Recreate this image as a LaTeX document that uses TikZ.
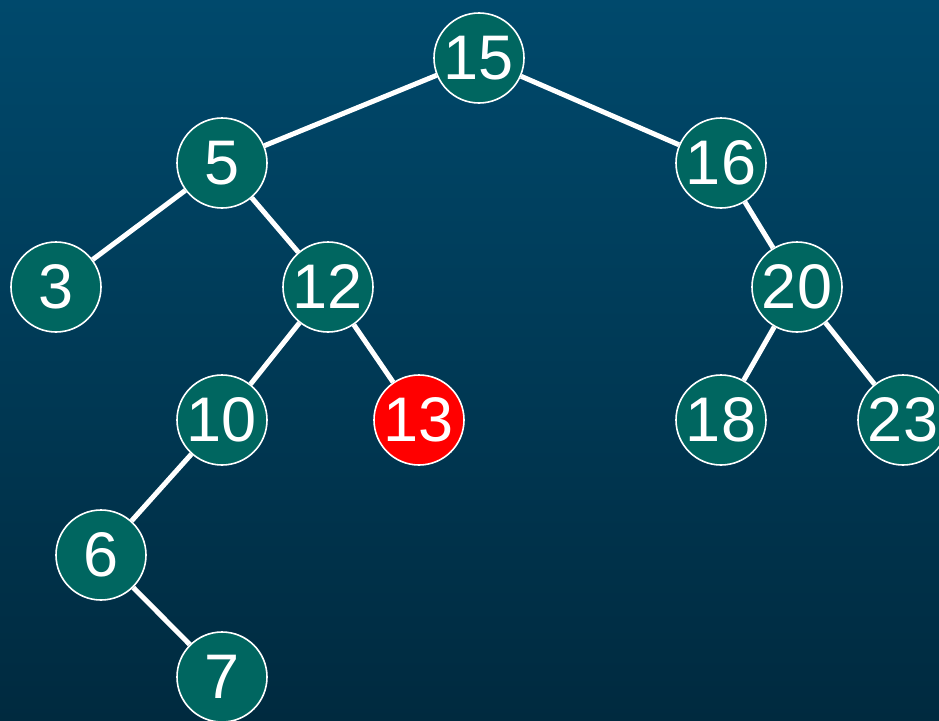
\documentclass[tikz,border=0pt]{standalone}
\usepackage{fontspec}
\setmainfont{Liberation Sans}
\definecolor{bgtop}{HTML}{00496C}
\definecolor{bgbot}{HTML}{002A3F}
\definecolor{nodefill}{HTML}{006660}
\definecolor{hotred}{HTML}{FF0000}
\begin{document}
\begin{tikzpicture}[x=1pt,y=-1pt,
  treenode/.style={circle,draw=white,line width=1.6pt,fill=nodefill,minimum size=90pt,inner sep=0pt,text=white,font=\fontsize{63}{63}\selectfont},
  rednode/.style={treenode,fill=hotred},
  edge/.style={draw=white,line width=5pt}]
\useasboundingbox (0,0) rectangle (939,720);
\shade[top color=bgtop,bottom color=bgbot] (0,0) rectangle (939,720);
\node[treenode] (n15) at (479,58) {15};
\node[treenode] (n5) at (222,163) {5};
\node[treenode] (n16) at (721,163) {16};
\node[treenode] (n3) at (56,287) {3};
\node[treenode] (n12) at (328,287) {12};
\node[treenode] (n20) at (797,287) {20};
\node[treenode] (n10) at (222,420) {10};
\node[rednode] (n13) at (419,420) {13};
\node[treenode] (n18) at (721,420) {18};
\node[treenode] (n23) at (903,420) {23};
\node[treenode] (n6) at (101,555) {6};
\node[treenode] (n7) at (222,677) {7};
\begin{scope}[on background layer/.style={}]
\end{scope}
\foreach \a/\b in {n15/n5,n15/n16,n5/n3,n5/n12,n16/n20,n12/n10,n12/n13,n20/n18,n20/n23,n10/n6,n6/n7}
  \draw[edge] (\a) -- (\b);
\end{tikzpicture}
\end{document}
